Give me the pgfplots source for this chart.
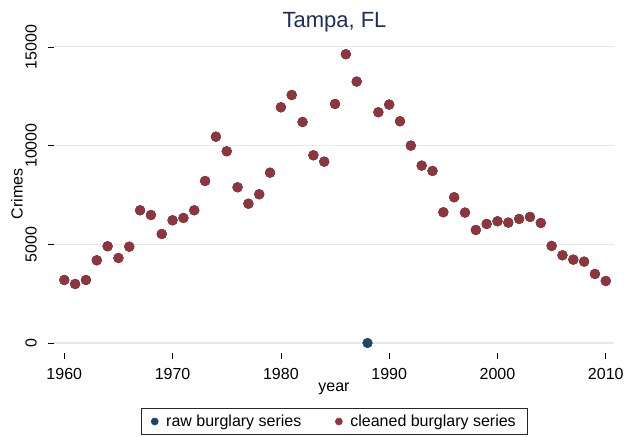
\documentclass[border=0pt]{standalone}
\usepackage{pgfplots}
\pgfplotsset{compat=1.18}
\usepackage{pgfplotstable}
\usepackage{fontspec}
\setmainfont{Liberation Sans}
\definecolor{rawc}{RGB}{26,71,111}
\definecolor{cleanc}{RGB}{144,53,59}
\definecolor{titlec}{RGB}{30,45,95}
\definecolor{gridc}{RGB}{226,233,239}

\pgfplotstableread{
year crimes
1960 3191
1961 2989
1962 3191
1963 4189
1964 4899
1965 4306
1966 4879
1967 6722
1968 6484
1969 5522
1970 6216
1971 6332
1972 6722
1973 8207
1974 10451
1975 9711
1976 7887
1977 7057
1978 7533
1979 8627
1980 11940
1981 12563
1982 11196
1983 9508
1984 9187
1985 12109
1986 14628
1987 13243
1988 0
1989 11689
1990 12078
1991 11233
1992 10000
1993 8986
1994 8716
1995 6622
1996 7382
1997 6605
1998 5726
1999 6030
2000 6166
2001 6098
2002 6284
2003 6385
2004 6081
2005 4916
2006 4443
2007 4223
2008 4122
2009 3497
2010 3142
}\rawdata

\pgfplotstableread{
year crimes
1960 3191
1961 2989
1962 3191
1963 4189
1964 4899
1965 4306
1966 4879
1967 6722
1968 6484
1969 5522
1970 6216
1971 6332
1972 6722
1973 8207
1974 10451
1975 9711
1976 7887
1977 7057
1978 7533
1979 8627
1980 11940
1981 12563
1982 11196
1983 9508
1984 9187
1985 12109
1986 14628
1987 13243
1989 11689
1990 12078
1991 11233
1992 10000
1993 8986
1994 8716
1995 6622
1996 7382
1997 6605
1998 5726
1999 6030
2000 6166
2001 6098
2002 6284
2003 6385
2004 6081
2005 4916
2006 4443
2007 4223
2008 4122
2009 3497
2010 3142
}\cleandata

\begin{document}
\begin{tikzpicture}[x=1bp,y=1bp]
\useasboundingbox (0,0) rectangle (625,437);
\begin{axis}[
  at={(54bp,84bp)}, anchor=south west,
  scale only axis, width=560bp, height=318bp,
  xmin=1959.05, xmax=2010.76, ymin=-507, ymax=15603,
  axis x line*=bottom, axis y line*=left,
  axis line style={draw=none},
  xtick={1960,1970,...,2010}, ytick={0,5000,10000,15000},
  scaled y ticks=false, scaled x ticks=false,
  tick align=outside, major tick length=6bp,
  tick style={black, line width=0.7bp},
  ymajorgrids, major grid style={gridc, line width=1.2bp},
  font=\fontsize{16bp}{19bp}\selectfont,
  /pgf/number format/assume math mode=true,
  /pgf/number format/1000 sep={},
  xticklabel style={anchor=base, inner sep=0pt, yshift=-20.3bp},
  yticklabel style={xshift=-11.3bp, rotate=90, anchor=base, inner sep=0pt},
  clip=false,
  legend columns=2,
  legend style={at={(axis description cs:0.5009,-0.2154)}, anchor=center,
    draw=black!85, line width=0.6bp, inner xsep=9.5bp, inner ysep=4.5bp,
    font=\fontsize{16bp}{19bp}\selectfont,
    /tikz/every odd column/.append style={column sep=6bp},
    /tikz/every even column/.append style={column sep=32bp}},
  legend cell align=left,
  legend image code/.code={\draw[#1, mark size=3.5bp] plot coordinates {(3.5bp,0bp)};},
]
\addplot[only marks, mark=*, mark size=4.9bp, mark options={fill=rawc, draw=rawc}] table[x=year, y=crimes] {\rawdata};
\addlegendentry{raw burglary series}
\addplot[only marks, mark=*, mark size=4.9bp, mark options={fill=cleanc, draw=cleanc}] table[x=year, y=crimes] {\cleandata};
\addlegendentry{cleaned burglary series}
\end{axis}
\node[anchor=base, text=titlec, font=\fontsize{22bp}{26bp}\selectfont] at (334.5,409.7) {Tampa, FL};
\node[anchor=base, font=\fontsize{16bp}{19bp}\selectfont] at (334,45.3) {year};
\node[anchor=base, rotate=90, font=\fontsize{16bp}{19bp}\selectfont] at (22.7,243) {Crimes};
\end{tikzpicture}
\end{document}
